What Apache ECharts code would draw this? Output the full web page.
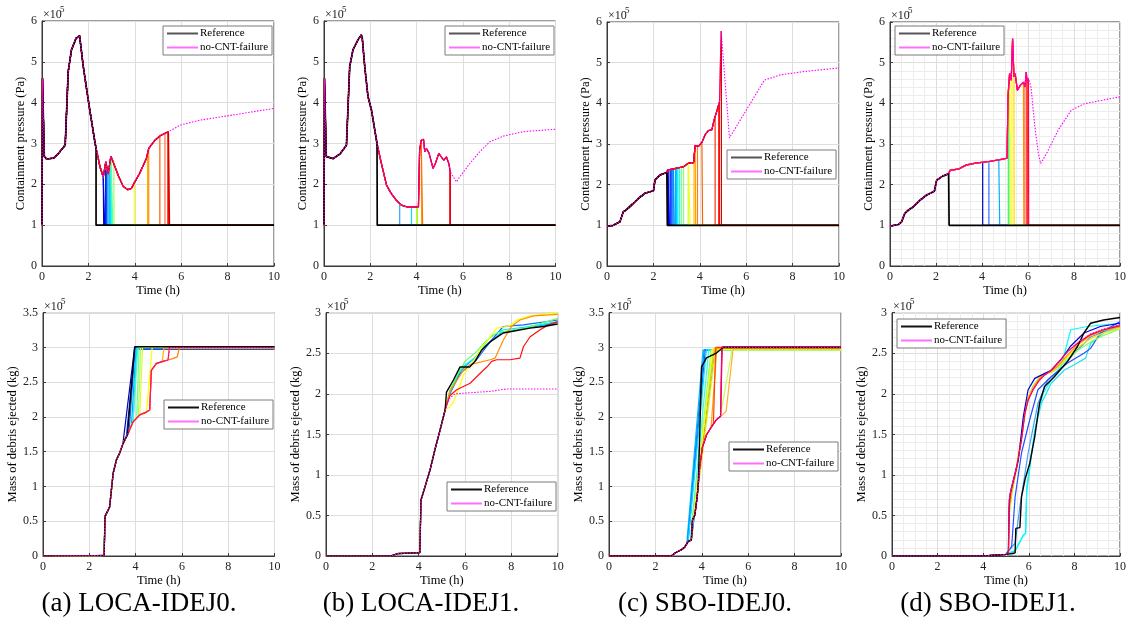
<!DOCTYPE html>
<html><head><meta charset="utf-8">
<script src="https://cdn.jsdelivr.net/npm/echarts@6.0.0/dist/echarts.min.js"></script>
<style>html,body{margin:0;padding:0;background:#fff}#c{width:1129px;height:622px}</style>
</head><body><div id="c"></div>
<script>
// ---------- DATA (pressure in 1e5 Pa, mass in 1e5 kg, time in h) ----------
// (a) LOCA-IDEJ0 pressure base path
const aTopT = [0,0.02,0.1,0.2,0.5,0.7,1.0,1.13,1.27,1.47,1.62,1.66,1.78,1.95,2.07,2.29,2.5,2.64,2.7,2.75,2.85,2.97,3.05,3.3,3.5,3.7,3.85,4.0,4.2,4.5,4.6,4.87,5.09,5.45,5.95,6.8,8.25,10];
const aTopP = [1.0,4.6,2.68,2.62,2.64,2.75,2.96,4.76,5.29,5.58,5.64,5.6,4.88,4.23,3.78,3.0,2.43,2.18,2.14,2.55,2.25,2.69,2.65,2.2,1.95,1.87,1.9,2.06,2.26,2.63,2.88,3.08,3.19,3.29,3.45,3.57,3.7,3.86];
const aTopRefFail = 2.33;
const aTopFail = [2.66,2.7,2.74,2.78,2.84,2.9,2.95,3.0,3.05,3.1,3.98,4.55,4.6,5.08,5.3,5.42,5.46,5.5];
const aTopCol = ['#0000a0','#0000e0','#0020ff','#0050ff','#0080ff','#00b0ff','#00e0ff','#20ffe0','#60ffa0','#a0ff60','#ffff00','#ffb000','#ff9000','#ff6000','#ff7050','#ff3000','#ff0000','#d00000'];

// (b) LOCA-IDEJ1 pressure
const bTopT = [0,0.02,0.1,0.4,0.7,0.97,1.11,1.25,1.47,1.61,1.65,1.76,1.9,2.05,2.29,2.48,2.7,2.91,3.13,3.34,3.56,4.08,4.13,4.2,4.3,4.35,4.42,4.54,4.71,4.81,4.96,5.07,5.17,5.29,5.39,5.46,5.72,5.86,6.3,6.73,7.16,7.74,8.6,10];
const bTopP = [1.0,4.6,2.68,2.63,2.75,2.96,4.88,5.29,5.54,5.66,5.6,4.88,4.15,3.82,3.0,2.51,1.98,1.77,1.61,1.49,1.45,1.45,2.84,3.08,3.1,2.8,2.88,2.76,2.39,2.51,2.76,2.67,2.59,2.67,2.51,2.3,2.06,2.18,2.51,2.8,3.04,3.18,3.29,3.35];
const bTopRefFail = 2.3;
const bTopFail = [3.27,3.78,4.0,4.03,4.22,4.26,5.43,5.45,5.46];
const bTopCol = ['#30a0ff','#00e0ff','#f0f000','#80ff40','#ffa000','#ff7000','#ff4040','#ff0000','#e00020'];

// (c) SBO-IDEJ0 pressure
const cTopT = [0,0.27,0.56,0.7,0.85,1.06,1.35,1.64,2.0,2.07,2.29,2.58,2.62,2.86,3.3,3.51,3.73,3.8,3.94,4.09,4.23,4.37,4.52,4.62,4.73,4.85,4.92,5.28,6.78,7.47,8.47,10];
const cTopP = [0.98,1.0,1.09,1.33,1.39,1.5,1.66,1.79,1.85,2.12,2.24,2.3,2.36,2.39,2.44,2.53,2.54,2.96,2.94,3.04,3.23,3.33,3.35,3.6,3.8,4.05,5.78,3.15,4.57,4.7,4.78,4.87];
const cTopRefFail = 2.6;
const cTopFail = [2.63,2.66,2.69,2.72,2.76,2.8,2.85,2.9,2.95,3.0,3.05,3.12,3.2,3.3,3.5,3.58,3.75,3.82,3.9,4.12,4.66,4.82,4.84,4.93];
const cTopCol = ['#000090','#0000b0','#0000e0','#0010ff','#0030ff','#0050ff','#0070ff','#0090ff','#00b0ff','#00d0ff','#00f0ff','#30ffd0','#60ffa0','#90ff70','#c0ff40','#ffff00','#ffc000','#ffa000','#ff8000','#ff6000','#ff3000','#ff1000','#f00000','#e00000'];

// (d) SBO-IDEJ1 pressure
const dTopT = [0,0.36,0.5,0.64,0.79,1.0,1.29,1.58,1.93,2.03,2.29,2.55,2.61,3.01,3.3,3.72,4.3,4.73,5.09,5.13,5.2,5.27,5.33,5.39,5.44,5.54,5.66,5.8,5.87,5.92,5.97,6.02,6.13,6.3,6.45,6.55,6.8,7.31,7.88,8.45,9.17,10];
const dTopP = [0.98,1.02,1.08,1.29,1.37,1.45,1.61,1.74,1.84,2.11,2.21,2.27,2.35,2.39,2.48,2.53,2.57,2.61,2.65,4.16,4.73,4.57,5.59,4.65,4.73,4.32,4.44,4.52,4.4,4.77,4.52,4.61,4.4,3.42,2.76,2.52,2.76,3.34,3.83,3.99,4.07,4.16];
const dTopRefFail = 2.57;
const dTopFail = [4.03,4.3,4.77,5.14,5.16,5.19,5.22,5.28,5.34,5.4,5.82,5.86,5.93,5.98,6.03];
const dTopCol = ['#0000c0','#3070ff','#00b0ff','#60ff80','#00f0f0','#a0ff40','#e0ff30','#ffff40','#fff080','#ffe000','#ff9000','#ff8040','#ff5050','#ff3030','#ff0040'];

// (a) debris mass
const aBotT = [0,2.3,2.64,2.68,2.81,2.88,3.03,3.17,3.31,3.46,3.67,3.89,4.18,4.47,4.61,4.68,4.9,5.19,5.4,5.6,5.84];
const aBotM = [0,0.005,0.01,0.57,0.66,0.71,1.19,1.38,1.48,1.62,1.76,1.93,2.03,2.07,2.1,2.67,2.77,2.8,2.82,2.84,2.87];
const aBotStart = [3.45,3.6,3.72,3.82,3.9,3.97,4.05,4.12,4.2,4.55,5.15,5.8,5.4];
const aBotEnd   = [3.95,3.97,3.98,4.02,4.05,4.1,4.15,4.22,4.3,4.72,5.22,5.9,5.46];
const aBotLvl   = [2.975,2.99,3.0,2.99,3.0,3.01,3.0,3.01,3.0,3.01,2.99,3.01,3.0];
const aBotCol = ['#0000b0','#0030ff','#0070ff','#00a8ff','#00e0ff','#30ffd0','#70ff90','#b0ff50','#d8ff30','#ffff00','#ffb000','#ff8000','#ff2000'];
const aBotRef = [3.65,3.96,3.01];
const aBotNo = [5.42,5.48,3.0];

// (b) debris mass
const bBotT = [0,2.8,3.1,4.05,4.1,4.27,4.49,4.7,4.92,5.14];
const bBotM = [0,0,0.03,0.04,0.69,0.85,1.06,1.31,1.55,1.8];
const bBlueT = [5.35,5.78,6.5,7.08,7.65,8.52,10],       bBlueM = [2.0,2.25,2.42,2.64,2.83,2.85,2.91];
const bLBlueT = [5.35,5.8,6.4,7.0,7.6,8.5,10],          bLBlueM = [2.03,2.28,2.44,2.62,2.76,2.8,2.88];
const bCyanT = [5.35,5.78,6.5,7.08,7.65,8.52,10],       bCyanM = [2.02,2.31,2.46,2.7,2.79,2.82,2.89];
const bGreenT = [5.35,5.64,6.0,6.5,6.94,7.37,7.94,8.5,10], bGreenM = [2.05,2.21,2.4,2.52,2.66,2.75,2.78,2.8,2.93];
const bYellowT = [5.35,5.5,5.71,5.93,6.36,6.79,7.08,7.37,7.8,8.0,8.23,8.8,10], bYellowM = [1.84,1.9,2.05,2.23,2.4,2.6,2.7,2.81,2.83,2.85,2.91,2.96,3.0];
const bOrangeT = [5.35,5.93,6.22,7.08,7.3,7.65,8.0,8.37,8.95,10], bOrangeM = [2.03,2.29,2.36,2.42,2.44,2.66,2.83,2.91,2.96,2.98];
const bRedT = [5.35,5.64,6.22,6.5,6.79,6.94,7.15,7.37,7.94,8.37,8.52,8.8,9.24,9.6,10], bRedM = [1.98,2.05,2.13,2.21,2.29,2.33,2.4,2.42,2.42,2.44,2.58,2.7,2.79,2.85,2.89];
const bRefT = [5.2,5.5,5.78,6.2,6.43,6.72,7.08,7.65,8.23,8.8,9.38,10], bRefM = [2.02,2.17,2.33,2.33,2.4,2.54,2.64,2.75,2.78,2.81,2.83,2.86];
const bNoT = [5.35,5.57,7.08,7.8,10], bNoM = [1.95,2.0,2.03,2.06,2.06];

// (c) debris mass
const cBotT = [0,2.69,2.83,3.12,3.27,3.41,3.55,3.6,3.7,3.8,3.91,4.03,4.2,4.42,4.63,4.81,4.95,5.1];
const cBotM = [0,0,0.04,0.09,0.13,0.21,0.23,0.52,0.59,0.85,1.28,1.57,1.74,1.86,1.96,2.01,2.05,2.1];
const cBotStart = [3.35,3.38,3.42,3.45,3.55,3.5,3.55,3.6,3.7,3.65,3.75,4.4,4.8,5.05,4.5,4.81,4.82];
const cBotEnd   = [4.05,4.1,4.15,4.2,4.55,4.3,4.4,4.5,4.6,4.45,4.55,4.65,5.3,5.35,4.6,4.86,4.88];
const cBotLvl   = [2.96,2.97,2.96,2.97,2.97,2.96,2.96,2.97,2.97,2.98,2.99,2.99,2.96,2.98,3.0,3.0,3.01];
const cBotCol = ['#00c0ff','#0090ff','#0060ff','#00e0ff','#0000c0','#30ffd0','#60ff90','#90ff60','#c0ff40','#ffff00','#ffd000','#ffa000','#c0ff60','#ffb030','#ff4000','#ff0000','#e00020'];
const cBotRefStart = 3.85, cBotRefT = [3.99,4.2,4.63,4.92,10], cBotRefM = [2.72,2.85,2.92,3.0,3.0];
const cBotNo = [4.81,4.86,3.0];

// (d) debris mass
const dEarlyT = [0,4.0,4.5,5.0,5.11,5.14,5.25,5.47,5.68,5.83,5.97,6.19,6.47,6.69,6.98,7.27,7.7,8.13,8.71,9.28,10];
const dGreenM  = [0,0,0.01,0.02,0.04,0.5,0.75,1.1,1.48,1.78,1.96,2.1,2.21,2.25,2.26,2.31,2.43,2.53,2.64,2.72,2.8];
const dYellowM = [0,0,0.01,0.02,0.04,0.55,0.78,1.12,1.5,1.8,1.95,2.08,2.2,2.24,2.27,2.33,2.46,2.57,2.68,2.75,2.81];
const dOrangeM = [0,0,0.01,0.02,0.04,0.6,0.8,1.08,1.45,1.75,1.93,2.07,2.19,2.25,2.28,2.34,2.48,2.6,2.72,2.78,2.83];
const dRedM    = [0,0,0.01,0.02,0.05,0.69,0.85,1.1,1.43,1.76,1.92,2.05,2.17,2.23,2.29,2.38,2.52,2.62,2.73,2.79,2.84];
const dNoM     = [0,0,0.01,0.02,0.05,0.7,0.86,1.11,1.44,1.77,1.93,2.06,2.17,2.23,2.29,2.38,2.52,2.63,2.74,2.8,2.85];
const dDBlueT = [0,4.0,4.5,5.0,5.1,5.14,5.18,5.54,5.76,5.97,6.26,6.55,6.98,7.41,7.84,8.42,9.14,10];
const dDBlueM = [0,0,0.01,0.02,0.05,0.6,0.77,1.18,1.72,2.05,2.19,2.23,2.29,2.42,2.59,2.75,2.83,2.87];
const dBlueT = [0,4.0,4.5,5.0,5.25,5.4,5.68,6.04,6.4,6.98,7.7,8.42,8.71,9.14,10];
const dBlueM = [0,0,0.01,0.02,0.12,0.73,1.27,1.68,2.05,2.21,2.38,2.5,2.56,2.75,2.89];
const dLBlueT = [0,4.0,4.5,5.0,5.4,5.61,5.97,6.4,6.83,7.41,7.99,8.71,10];
const dLBlueM = [0,0,0.01,0.02,0.16,0.61,1.27,1.88,2.17,2.31,2.5,2.7,2.85];
const dCyan1T = [0,4.0,4.5,5.0,5.4,5.76,5.86,5.91,6.12,6.4,6.62,6.98,7.41,7.84,8.56,10];
const dCyan1M = [0,0,0.01,0.02,0.07,0.26,0.28,0.85,1.27,1.76,2.0,2.17,2.33,2.79,2.83,2.87];
const dCyan2T = [0,4.0,4.5,5.0,5.4,5.76,5.86,5.91,6.26,6.55,6.98,7.55,8.13,8.49,8.71,9.28,10];
const dCyan2M = [0,0,0.01,0.02,0.06,0.25,0.28,0.8,1.55,1.88,2.13,2.29,2.38,2.44,2.62,2.75,2.83];
const dRefT = [0,4.0,4.5,5.0,5.3,5.4,5.43,5.61,5.68,5.83,6.04,6.26,6.47,6.69,7.12,7.7,8.13,8.42,8.71,9.28,10];
const dRefM = [0,0,0.01,0.02,0.03,0.04,0.34,0.35,0.73,0.94,1.14,1.47,1.88,2.09,2.21,2.4,2.58,2.75,2.87,2.91,2.94];

const captions = ['(a) LOCA-IDEJ0.','(b) LOCA-IDEJ1.','(c) SBO-IDEJ0.','(d) SBO-IDEJ1.'];
const yNameTop = 'Containment pressure (Pa)';
const yNameBot = 'Mass of debris ejected (kg)';
const xName = 'Time (h)';

// ---------- helpers ----------
const FF = '"Liberation Serif","Times New Roman",serif';
function zip(T, V) { return T.map((t, i) => [t, V[i]]); }
function interp(T, V, t) {
  for (let i = 1; i < T.length; i++) if (t <= T[i]) return V[i-1] + (V[i]-V[i-1]) * (t - T[i-1]) / (T[i] - T[i-1]);
  return V[V.length-1];
}
function failData(T, V, tf) {
  const d = []; T.forEach((t, i) => { if (t < tf) d.push([t, V[i]]); });
  d.push([tf, interp(T, V, tf)]); d.push([tf, 1]); d.push([10, 1]); return d;
}
function jumpData(T, V, ts, te, lvl) {
  const d = []; T.forEach((t, i) => { if (t < ts) d.push([t, V[i]]); });
  d.push([ts, interp(T, V, ts)]); d.push([te, lvl]); d.push([10, lvl]); return d;
}
function joinData(T, V, T2, V2) {
  const d = []; T.forEach((t, i) => { if (t < T2[0]) d.push([t, V[i]]); });
  return d.concat(zip(T2, V2));
}
const series = [];
function ln(g, data, color, width, name, dotted) {
  series.push({
    type: 'line', name: name ? (name + '#' + g) : ('s' + series.length), xAxisIndex: g, yAxisIndex: g, data,
    symbol: 'none', showSymbol: false, silent: true, animation: false,
    lineStyle: { color, width, type: dotted ? [1.5, 1.5] : 'solid' }, itemStyle: { color }
  });
}
const REF = 'Reference', NO = 'no-CNT-failure', BLK = '#000000', MAG = '#ff00ff';
const CW = 1.2, BW = 1.7;

// ---------- top row ----------
[[aTopT,aTopP,aTopFail,aTopCol,aTopRefFail],[bTopT,bTopP,bTopFail,bTopCol,bTopRefFail],
 [cTopT,cTopP,cTopFail,cTopCol,cTopRefFail],[dTopT,dTopP,dTopFail,dTopCol,dTopRefFail]].forEach((p, g) => {
  const [T, P, F, C, rf] = p;
  F.forEach((tf, i) => ln(g, failData(T, P, tf), C[i], CW));
  ln(g, failData(T, P, rf), BLK, BW, REF);
  ln(g, zip(T, P), MAG, 1.1, NO, true);
});
// ---------- bottom row ----------
aBotStart.forEach((ts, i) => ln(4, jumpData(aBotT, aBotM, ts, aBotEnd[i], aBotLvl[i]), aBotCol[i], CW));
ln(4, jumpData(aBotT, aBotM, aBotRef[0], aBotRef[1], aBotRef[2]), BLK, 1.4, REF);
ln(4, jumpData(aBotT, aBotM, aBotNo[0], aBotNo[1], aBotNo[2]), MAG, 1.1, NO, true);

[[bBlueT,bBlueM,'#1060ff'],[bLBlueT,bLBlueM,'#00a0ff'],[bCyanT,bCyanM,'#00f0f0'],[bGreenT,bGreenM,'#60ff60'],
 [bYellowT,bYellowM,'#ffff00'],[bOrangeT,bOrangeM,'#ff9000'],[bRedT,bRedM,'#ff1010']].forEach(s =>
  ln(5, joinData(bBotT, bBotM, s[0], s[1]), s[2], CW));
ln(5, joinData(bBotT, bBotM, bRefT, bRefM), BLK, 1.4, REF);
ln(5, joinData(bBotT, bBotM, bNoT, bNoM), MAG, 1.1, NO, true);

cBotStart.forEach((ts, i) => ln(6, jumpData(cBotT, cBotM, ts, cBotEnd[i], cBotLvl[i]), cBotCol[i], CW));
ln(6, joinData(cBotT, cBotM, [cBotRefStart].concat(cBotRefT), [interp(cBotT, cBotM, cBotRefStart)].concat(cBotRefM)), BLK, 1.4, REF);
ln(6, jumpData(cBotT, cBotM, cBotNo[0], cBotNo[1], cBotNo[2]), MAG, 1.1, NO, true);

[[dCyan2T,dCyan2M,'#20e0f0'],[dCyan1T,dCyan1M,'#00ffff'],[dLBlueT,dLBlueM,'#40a0ff'],[dBlueT,dBlueM,'#2050ff'],
 [dEarlyT,dGreenM,'#80ff60'],[dEarlyT,dYellowM,'#ffe000'],[dEarlyT,dOrangeM,'#ff9000'],[dDBlueT,dDBlueM,'#0000d0'],
 [dEarlyT,dRedM,'#ff0000']].forEach(s => ln(7, zip(s[0], s[1]), s[2], CW));
ln(7, zip(dRefT, dRefM), BLK, 1.4, REF);
ln(7, zip(dEarlyT, dNoM), MAG, 1.1, NO, true);

// ---------- layout ----------
const grids = [
  {left:42, top:21, width:232, height:245},
  {left:324, top:21, width:231.5, height:245},
  {left:607, top:22, width:232, height:244},
  {left:890, top:22, width:233, height:244},
  {left:43, top:312.7, width:231.5, height:243.3},
  {left:326, top:312.7, width:231.7, height:243.3},
  {left:609, top:312.7, width:232, height:243.3},
  {left:892, top:312.7, width:231.5, height:243.3}
].map(g => Object.assign(g, {show:true, borderColor:'#3a3a3a', borderWidth:1, backgroundColor:'#fff'}));

const yMax = [6,6,6,6,3.5,3,3.5,3];
const yInt = [1,1,1,1,0.5,0.5,0.5,0.5];
const minorOn = [false,false,false,true,false,false,false,true];
const AX = '#3a3a3a';
const xAxis = grids.map((g, i) => ({
  type:'value', gridIndex:i, min:0, max:10, interval:2,
  name: xName, nameLocation:'middle', nameGap:18,
  nameTextStyle:{fontFamily:FF, fontSize:12.5, color:'#000'},
  axisLine:{show:true, onZero:false, lineStyle:{color:AX, width:1}},
  axisTick:{show:true, inside:true, length:3, lineStyle:{color:AX}},
  axisLabel:{fontFamily:FF, fontSize:12, color:'#222', margin:5, formatter: v => String(v)},
  splitLine:{show:true, lineStyle:{color:'#dedede', width:1}},
  minorTick:{show:false, splitNumber:4},
  minorSplitLine:{show:minorOn[i], lineStyle:{color:'#ececec', width:1}}
}));
const yAxis = grids.map((g, i) => ({
  type:'value', gridIndex:i, min:0, max:yMax[i], interval:yInt[i],
  name: i < 4 ? yNameTop : yNameBot, nameLocation:'middle', nameGap: i < 4 ? 15 : 19,
  nameTextStyle:{fontFamily:FF, fontSize:12.5, color:'#000'},
  axisLine:{show:true, onZero:false, lineStyle:{color:AX, width:1}},
  axisTick:{show:true, inside:true, length:3, lineStyle:{color:AX}},
  axisLabel:{fontFamily:FF, fontSize:12, color:'#222', margin:5, formatter: v => String(v)},
  splitLine:{show:true, lineStyle:{color:'#dedede', width:1}},
  minorTick:{show:false, splitNumber:5},
  minorSplitLine:{show:minorOn[i], lineStyle:{color:'#ececec', width:1}}
}));

const legendPos = [[163,26],[445,26],[727,150],[895,26],[164,400],[447,482],[729,442],[897,319]];
const legend = legendPos.map((p, i) => ({
  left:p[0], top:p[1], orient:'vertical', selectedMode:false,
  itemWidth:31, itemHeight:2, itemGap:3, padding:[2,4,2,4],
  borderColor:'#7a7a7a', borderWidth:1, backgroundColor:'#fff', borderRadius:0,
  textStyle:{fontFamily:FF, fontSize:11, color:'#000', padding:[0,0,0,-3]},
  formatter: n => n.split('#')[0],
  data:[{name:REF + '#' + i, icon:'rect', itemStyle:{color: i < 4 ? '#555' : '#111', borderWidth:0}},
        {name:NO + '#' + i, icon:'rect', itemStyle:{color:'#ff70ff', borderWidth:0}}]
}));

const graphic = [];
grids.forEach(g => {
  graphic.push({type:'text', silent:true, style:{text:'×10', x:g.left+1, y:g.top-6, font:'12px ' + FF, fill:'#222', verticalAlign:'middle', textVerticalAlign:'middle'}});
  graphic.push({type:'text', silent:true, style:{text:'5', x:g.left+18, y:g.top-11, font:'9px ' + FF, fill:'#222', verticalAlign:'middle', textVerticalAlign:'middle'}});
});
const capX = [139,421,705,988];
captions.forEach((c, i) => graphic.push({type:'text', silent:true,
  style:{text:c, x:capX[i], y:604, font:'27px ' + FF, fill:'#000', align:'center', verticalAlign:'middle', textAlign:'center', textVerticalAlign:'middle'}}));

const chart = echarts.init(document.getElementById('c'), null, {renderer:'canvas'});
chart.setOption({animation:false, backgroundColor:'#fff', grid:grids, xAxis, yAxis, legend, series, graphic});
</script></body></html>
